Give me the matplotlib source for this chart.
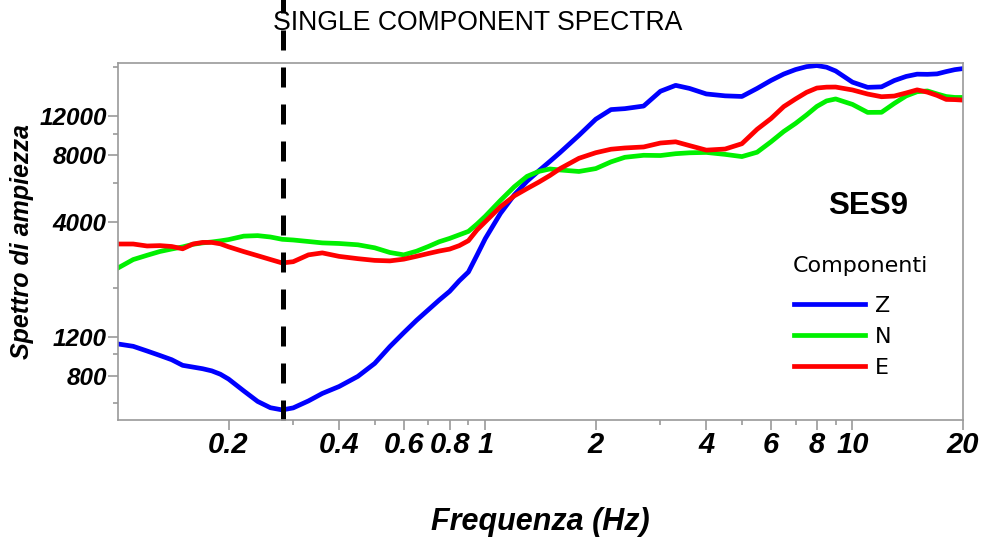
import matplotlib
matplotlib.use("Agg")
import matplotlib.pyplot as plt
from matplotlib.ticker import FixedLocator, NullFormatter

# Step 1: data (frequency in Hz, amplitude)
freq = [0.10, 0.11, 0.12, 0.13, 0.14, 0.15, 0.16, 0.17, 0.18, 0.19, 0.20,
        0.22, 0.24, 0.26, 0.28, 0.30, 0.33, 0.36, 0.40, 0.45, 0.50, 0.55,
        0.60, 0.65, 0.70, 0.75, 0.80, 0.85, 0.90, 0.95, 1.0, 1.1, 1.2, 1.3,
        1.4, 1.5, 1.6, 1.8, 2.0, 2.2, 2.4, 2.7, 3.0, 3.3, 3.6, 4.0, 4.5,
        5.0, 5.5, 6.0, 6.5, 7.0, 7.5, 8.0, 8.5, 9.0, 10, 11, 12, 13, 14,
        15, 16, 17, 18, 19, 20]

comp_z = [1116, 1089, 1037, 990, 947, 893, 877, 862, 843, 814, 774,
          684, 613, 574, 561, 573, 616, 666, 716, 796, 911, 1086,
          1255, 1428, 1594, 1766, 1932, 2158, 2364, 2820, 3345, 4353, 5283, 6094,
          6794, 7492, 8225, 9833, 11630, 12856, 12985, 13341, 15566, 16552, 16032, 15135, 14838,
          14745, 16032, 17423, 18625, 19518, 20121, 20350, 20004, 19233, 17113, 16216, 16297, 17405, 18166,
          18603, 18570, 18660, 19110, 19499, 19719]

comp_n = [2465, 2691, 2814, 2927, 3004, 3071, 3155, 3202, 3233, 3270, 3314,
          3436, 3454, 3405, 3324, 3300, 3249, 3202, 3182, 3139, 3042, 2897,
          2826, 2936, 3084, 3242, 3355, 3484, 3609, 3898, 4224, 4985, 5750, 6408,
          6750, 6921, 6849, 6743, 6950, 7453, 7818, 7983, 7963, 8117, 8193, 8225, 8059,
          7876, 8243, 9188, 10234, 11130, 12160, 13289, 14074, 14366, 13571, 12486, 12500, 13712, 14823,
          15489, 15617, 15135, 14733, 14594, 14594]

comp_e = [3165, 3165, 3100, 3112, 3084, 3011, 3165, 3218, 3218, 3171, 3074,
          2924, 2802, 2693, 2597, 2632, 2826, 2885, 2782, 2716, 2668, 2654,
          2702, 2784, 2867, 2942, 3001, 3112, 3276, 3666, 3988, 4666, 5229, 5642,
          6038, 6466, 6950, 7738, 8201, 8504, 8616, 8707, 9073, 9188, 8832, 8424, 8522,
          9008, 10470, 11705, 13264, 14366, 15393, 16097, 16248, 16265, 15776, 15121, 14703, 14808, 15290,
          15793, 15421, 14905, 14297, 14265, 14192]

x_major = [0.2, 0.4, 0.6, 0.8, 1, 2, 4, 6, 8, 10, 20]
x_labels = ["0.2", "0.4", "0.6", "0.8", "1", "2", "4", "6", "8", "10", "20"]
x_minor = [0.3, 0.5, 0.7, 0.9, 3, 5, 7, 9]
y_major = [800, 1200, 4000, 8000, 12000]
y_labels = ["800", "1200", "4000", "8000", "12000"]
y_minor = [600, 1000, 2000, 6000, 10000, 20000]

marker_freq = 0.282  # dashed reference line


# Step 2: draw the chart
def create_chart():
    plt.rcParams['font.family'] = ['Liberation Sans', 'DejaVu Sans']
    fig = plt.figure(figsize=(9.86, 5.47), dpi=100)
    ax = fig.add_axes([118 / 986, 1 - 420 / 547, 845 / 986, 357 / 547])

    ax.plot(freq, comp_z, color='#0000ff', lw=3.4, label='Z')
    ax.plot(freq, comp_n, color='#00f000', lw=3.4, label='N')
    ax.plot(freq, comp_e, color='#ff0000', lw=3.4, label='E')

    ax.set_xscale('log')
    ax.set_yscale('log')
    ax.set_xlim(0.1, 20)
    ax.set_ylim(505, 20900)

    ax.xaxis.set_major_locator(FixedLocator(x_major))
    ax.xaxis.set_minor_locator(FixedLocator(x_minor))
    ax.yaxis.set_major_locator(FixedLocator(y_major))
    ax.yaxis.set_minor_locator(FixedLocator(y_minor))
    ax.xaxis.set_minor_formatter(NullFormatter())
    ax.yaxis.set_minor_formatter(NullFormatter())
    ax.set_xticklabels(x_labels, fontsize=21, fontweight='bold', fontstyle='italic')
    ax.set_yticklabels(y_labels, fontsize=17.5, fontweight='bold', fontstyle='italic')

    grey = '#9a9a9a'
    for s in ax.spines.values():
        s.set_color(grey)
        s.set_linewidth(1.2)
    ax.tick_params(which='major', length=7, width=1.2, color=grey, pad=1)
    ax.tick_params(which='minor', length=3.5, width=1.2, color=grey)

    # dashed line runs up into the title area
    ax.axvline(marker_freq, ymin=0, ymax=1.2, color='black', lw=3.6,
               dashes=(4, 3.4), clip_on=False)

    fig.text(478 / 986, 1 - 23 / 547, "SINGLE COMPONENT SPECTRA", fontsize=19.2,
             ha='center', va='center')
    fig.text(22 / 986, 1 - 242 / 547, "Spettro di ampiezza", fontsize=18,
             fontweight='bold', fontstyle='italic', rotation=90,
             ha='center', va='center')
    fig.text(540 / 986, 1 - 522 / 547, "Frequenza (Hz)", fontsize=22,
             fontweight='bold', fontstyle='italic', ha='center', va='center')
    fig.text(868 / 986, 1 - 206 / 547, "SES9", fontsize=22.5,
             fontweight='bold', ha='center', va='center')
    fig.text(793 / 986, 1 - 266 / 547, "Componenti", fontsize=16,
             family='DejaVu Sans', ha='left', va='center')

    ax.legend(loc='upper left', bbox_to_anchor=(794 / 986, 1 - 296 / 547),
              bbox_transform=fig.transFigure, frameon=False,
              borderpad=0, borderaxespad=0, handlelength=3.2,
              handletextpad=0.45, labelspacing=0.5,
              prop={'family': 'DejaVu Sans', 'size': 16})

    fig.savefig("out.png", dpi=100)
    plt.close(fig)


if __name__ == "__main__":
    create_chart()
